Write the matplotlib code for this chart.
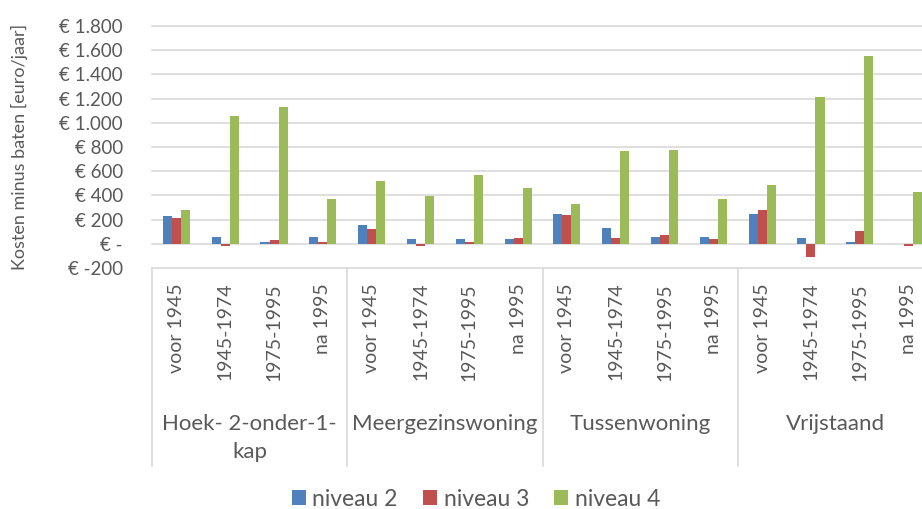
import matplotlib
matplotlib.use('Agg')
import matplotlib.pyplot as plt
import numpy as np

#------------------------------------------------
# data
groepen = ['Hoek- 2-onder-1-\nkap', 'Meergezinswoning', 'Tussenwoning', 'Vrijstaand']
perioden = ['voor 1945', '1945-1974', '1975-1995', 'na 1995']

niveau_2 = [226, 58, 16, 58,
            154, 38, 38, 38,
            250, 132, 60, 60,
            250, 50, 16, 2]
niveau_3 = [217, -20, 28, 16,
            121, -15, 16, 50,
            237, 50, 72, 38,
            281, -110, 105, -20]
niveau_4 = [281, 1054, 1128, 374,
            515, 399, 567, 460,
            325, 768, 779, 369,
            484, 1214, 1552, 430]

series = [('niveau 2', niveau_2, '#4F81BD'),
          ('niveau 3', niveau_3, '#C0504D'),
          ('niveau 4', niveau_4, '#9BBB59')]

yticks = np.arange(-200, 1801, 200)

#------------------------------------------------
plt.rcParams['font.family'] = ['Lato', 'DejaVu Sans']
W, H = 922, 509
fig = plt.figure(figsize=(W / 100, H / 100), dpi=100)
grijs = '#595959'

left, right = 152, 933
top, bottom = 26, 268
ax = fig.add_axes([left / W, 1 - bottom / H, (right - left) / W, (bottom - top) / H])

n = len(niveau_2)
x = np.arange(n) + 0.5
bw = 0.185
for k, (naam, vals, kleur) in enumerate(series):
    ax.bar(x + (k - 1) * bw, vals, width=bw, color=kleur, label=naam, zorder=3)

ax.set_xlim(0, n)
ax.set_ylim(-200, 1800)
for yv in yticks:
    ax.axhline(yv, color='#D9D9D9', lw=1.2, zorder=1, clip_on=False)
for s in ax.spines.values():
    s.set_visible(False)
ax.set_xticks([])
ax.set_yticks(yticks)

def euro(v):
    if v == 0:
        return '€ -'
    return '€ ' + '{:,}'.format(int(v)).replace(',', '.')

ax.set_yticklabels([euro(v) for v in yticks], fontsize=13.5, color=grijs)
ax.tick_params(axis='y', length=0, pad=21)

fig.text(19 / W, 1 - 147 / H, 'Kosten minus baten [euro/jaar]', rotation=90,
         ha='center', va='center', fontsize=13, color=grijs)

# category area under the plot
box_bottom = 466
hoog = box_bottom - bottom
ax2 = fig.add_axes([left / W, 1 - box_bottom / H, (right - left) / W, hoog / H])
ax2.set_xlim(0, n)
ax2.set_ylim(0, hoog)
ax2.axis('off')
for gx in range(0, n + 1, 4):
    ax2.plot([gx, gx], [0, hoog], color='#D9D9D9', lw=1.2, clip_on=False)

for i in range(n):
    ax2.text(x[i], hoog - 15, perioden[i % 4], rotation=90,
             ha='center', va='top', fontsize=14, color=grijs)
for g, naam in enumerate(groepen):
    for j, regel in enumerate(naam.split('\n')):
        ax2.text(g * 4 + 2, box_bottom - 430 - 28 * j, regel, ha='center', va='baseline',
                 fontsize=16, color=grijs)

handles, labels = ax.get_legend_handles_labels()
fig.legend(handles, labels, loc='center', bbox_to_anchor=(476 / W, 1 - 499 / H), ncol=3,
           frameon=False, fontsize=16.5, labelcolor=grijs, handlelength=0.6,
           handleheight=0.6, handletextpad=0.3, columnspacing=1.1)

fig.savefig('out.png', dpi=100)
